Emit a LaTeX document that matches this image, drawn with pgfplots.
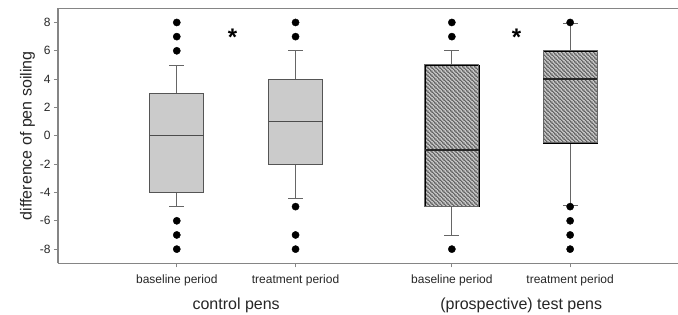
\documentclass[border=0pt]{standalone}
\usepackage{fontspec}
\setmainfont{Liberation Sans}
\usepackage{pgfplots}
\pgfplotsset{compat=1.18}
\usepgfplotslibrary{statistics}
\usetikzlibrary{patterns.meta}
\pgfdeclarepattern{
  name=hatchnw, type=uncolored,
  bottom left={\pgfqpoint{0bp}{0bp}}, top right={\pgfqpoint{3.6bp}{3.6bp}},
  tile size={\pgfqpoint{3.6bp}{3.6bp}},
  code={
    \pgfsetlinewidth{1.0bp}
    \pgfpathmoveto{\pgfqpoint{-0.6bp}{4.2bp}}\pgfpathlineto{\pgfqpoint{4.2bp}{-0.6bp}}
    \pgfpathmoveto{\pgfqpoint{-0.6bp}{0.6bp}}\pgfpathlineto{\pgfqpoint{0.6bp}{-0.6bp}}
    \pgfpathmoveto{\pgfqpoint{3.0bp}{4.2bp}}\pgfpathlineto{\pgfqpoint{4.2bp}{3.0bp}}
    \pgfusepathqstroke
  }
}
\definecolor{boxfill}{HTML}{CBCBCB}
\definecolor{boxline}{HTML}{555555}
\definecolor{axisgray}{HTML}{858585}
\definecolor{hatchbg}{HTML}{CACACA}
\definecolor{hatchfg}{HTML}{555555}
\begin{document}
\begin{tikzpicture}
\begin{axis}[
  scale only axis, width=620bp, height=255bp,
  xmin=0, xmax=5.22, ymin=-9, ymax=9,
  axis x line*=bottom, axis y line*=left,
  axis line style={draw=axisgray, line width=1.3bp},
  tick style={draw=axisgray, line width=0.8bp},
  tick align=outside, major tick length=4bp,
  xtick={1,2,3.316,4.312},
  xticklabels={baseline period, treatment period, baseline period, treatment period},
  ytick={-8,-6,...,8},
  /pgf/number format/assume math mode=true,
  tick label style={font=\fontsize{12bp}{14bp}\selectfont, text=black!85},
  xticklabel style={yshift=-4bp},
  ylabel={difference of pen soiling},
  ylabel style={font=\fontsize{16bp}{19bp}\selectfont, text=black!85, yshift=-2bp},
  clip=false,
  boxplot/draw direction=y,
  boxplot/box extend=0.455,
  boxplot/whisker extend=0.124,
  boxplot/every box/.style={draw=boxline, line width=1.1bp, fill=boxfill},
  boxplot/every whisker/.style={draw=black!60, line width=0.9bp},
  boxplot/every median/.style={draw=black!70, line width=1.1bp},
]
% control pens, baseline
\addplot[mark=*, mark size=3.6bp, mark options={fill=black, draw=black},
  boxplot prepared={draw position=1, lower whisker=-5, lower quartile=-4,
    median=0, upper quartile=3, upper whisker=5}]
  coordinates {(0,6) (0,7) (0,8) (0,-6) (0,-7) (0,-8)};
% control pens, treatment
\addplot[mark=*, mark size=3.6bp, mark options={fill=black, draw=black},
  boxplot prepared={draw position=2, lower whisker=-4.4, lower quartile=-2,
    median=1, upper quartile=4, upper whisker=6}]
  coordinates {(0,7) (0,8) (0,-5) (0,-7) (0,-8)};
% test pens, baseline
\addplot[mark=*, mark size=3.6bp, mark options={fill=black, draw=black},
  boxplot/every box/.style={draw=black!60, line width=1.0bp,
    preaction={fill=hatchbg},
    preaction={pattern={hatchnw}, pattern color=hatchfg}},
  boxplot/every median/.style={draw=black!85, line width=1.3bp},
  boxplot prepared={draw position=3.316, lower whisker=-7, lower quartile=-5,
    median=-1, upper quartile=5, upper whisker=6}]
  coordinates {(0,7) (0,8) (0,-8)};
% test pens, treatment
\addplot[mark=*, mark size=3.6bp, mark options={fill=black, draw=black},
  boxplot/every box/.style={draw=black!60, line width=1.0bp,
    preaction={fill=hatchbg},
    preaction={pattern={hatchnw}, pattern color=hatchfg}},
  boxplot/every median/.style={draw=black!85, line width=1.3bp},
  boxplot prepared={draw position=4.312, lower whisker=-4.9, lower quartile=-0.5,
    median=4, upper quartile=6, upper whisker=7.9}]
  coordinates {(0,8) (0,-5) (0,-6) (0,-7) (0,-8)};
\draw[axisgray, line width=1.3bp] (rel axis cs:0,1) -- (rel axis cs:1,1);
\node[font=\bfseries\fontsize{24bp}{26bp}\selectfont, inner sep=0pt, anchor=base] at (axis cs:1.47,6.4) {*};
\node[font=\bfseries\fontsize{24bp}{26bp}\selectfont, inner sep=0pt, anchor=base] at (axis cs:3.86,6.4) {*};
\node[font=\fontsize{16bp}{19bp}\selectfont, text=black!85, anchor=center] at (axis cs:1.5,-9) [yshift=-42bp] {control pens};
\node[font=\fontsize{16bp}{19bp}\selectfont, text=black!85, anchor=center] at (axis cs:3.9,-9) [yshift=-42bp] {(prospective) test pens};
\coordinate (O) at (rel axis cs:0,0);
\end{axis}
\pgfresetboundingbox
\path (O) ++(-58bp,-51.7bp) rectangle ++(678bp,315bp);
\end{tikzpicture}
\end{document}
